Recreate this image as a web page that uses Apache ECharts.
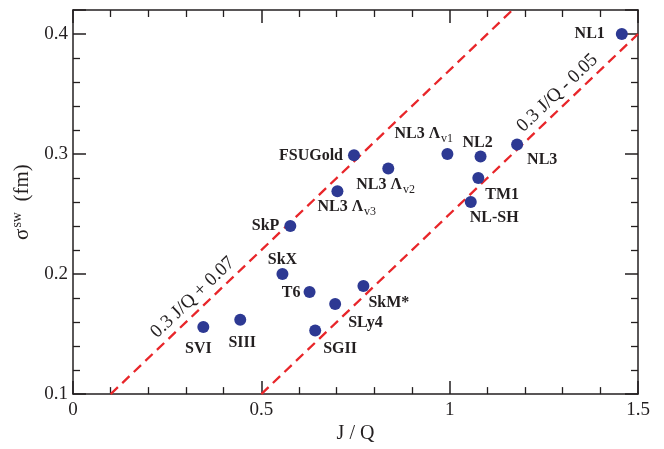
<!DOCTYPE html>
<html>
<head>
<meta charset="utf-8">
<script src="https://cdn.jsdelivr.net/npm/echarts@6/dist/echarts.min.js"></script>
<style>
  html, body { margin: 0; padding: 0; background: #fff; }
  #chart { width: 664px; height: 449px; }
</style>
</head>
<body>
<div id="chart"></div>
<script>
// Nuclear models: symmetry-energy ratio J/Q against skin-width coefficient (fm)
const models = ['NL1', 'NL3', 'NL2', 'TM1', 'NL-SH', 'NL3 Λv1', 'FSUGold', 'NL3 Λv2', 'NL3 Λv3',
                'SkP', 'SkX', 'T6', 'SkM*', 'SLy4', 'SVI', 'SIII', 'SGII'];
const jOverQ = [1.457, 1.179, 1.082, 1.076, 1.056, 0.994, 0.746, 0.837, 0.702,
                0.577, 0.556, 0.628, 0.771, 0.696, 0.346, 0.444, 0.643];
const sigmaSW = [0.400, 0.308, 0.298, 0.280, 0.260, 0.300, 0.299, 0.288, 0.269,
                 0.240, 0.200, 0.185, 0.190, 0.175, 0.156, 0.162, 0.153];

// Guide lines sigma = 0.3 J/Q + c
const guideSlope = 0.3;
const guideUpperIntercept = 0.07;
const guideLowerIntercept = -0.05;

const xTicks = { min: 0, max: 1.5, interval: 0.5 };
const yTicks = { min: 0.1, max: 0.42, interval: 0.1 };

const serif = 'Liberation Serif';
const ink = '#231f20';
const dotColor = '#2d3993';
const guideColor = '#e8262a';

// label placement: [align, dx, dy] relative to the marker centre
const labelPlace = {
  'NL1': ['right', -17, 0],
  'NL3': ['left', 10, 15],
  'NL2': ['left', -18, -14],
  'TM1': ['left', 7, 17],
  'NL-SH': ['left', -1, 16],
  'NL3 Λv1': ['left', -53, -20],
  'FSUGold': ['right', -11, 1],
  'NL3 Λv2': ['left', -32, 16],
  'NL3 Λv3': ['left', -20, 16],
  'SkP': ['right', -11, 0],
  'SkX': ['center', 0, -14],
  'T6': ['right', -9, 1],
  'SkM*': ['left', 5, 17],
  'SLy4': ['left', 13, 19],
  'SVI': ['center', -5, 22],
  'SIII': ['center', 2, 23],
  'SGII': ['left', 8, 18]
};

const symSize = 12;
const round4 = v => Math.round(v * 10000) / 10000;

function guideLine(intercept) {
  const x0 = round4(Math.max(xTicks.min, (yTicks.min - intercept) / guideSlope));
  const x1 = round4(Math.min(xTicks.max, (yTicks.max - intercept) / guideSlope));
  const y = x => round4(Math.min(yTicks.max, guideSlope * x + intercept));
  return [[x0, y(x0)], [x1, y(x1)]];
}

function makeAxis(extra) {
  return Object.assign({
    type: 'value',
    axisLine: { show: true, onZero: false, lineStyle: { color: ink, width: 1.5 } },
    axisTick: { show: true, inside: true, length: 13, lineStyle: { color: ink, width: 1.5 } },
    minorTick: { show: true, splitNumber: 5, length: 7, lineStyle: { color: ink, width: 1.3 } },
    splitLine: { show: false },
    minorSplitLine: { show: false }
  }, extra);
}

const chart = echarts.init(document.getElementById('chart'));

chart.setOption({
  animation: false,
  backgroundColor: '#fff',
  grid: { left: 73, right: 26, top: 10, bottom: 45 },
  xAxis: [
    makeAxis({
      position: 'bottom', min: xTicks.min, max: xTicks.max, interval: xTicks.interval,
      name: 'J / Q', nameLocation: 'middle', nameGap: 24,
      nameTextStyle: { fontFamily: serif, fontSize: 20, color: ink },
      axisLabel: { fontFamily: serif, fontSize: 19, color: ink, margin: 6 }
    }),
    makeAxis({
      position: 'top', min: xTicks.min, max: xTicks.max, interval: xTicks.interval,
      axisLabel: { show: false }
    })
  ],
  yAxis: [
    makeAxis({
      position: 'left', min: yTicks.min, max: yTicks.max, interval: yTicks.interval,
      name: '{s|σ}{sup|sw}{s|  (fm)}', nameLocation: 'middle', nameGap: 32,
      nameTextStyle: {
        rich: {
          s: { fontFamily: serif, fontSize: 21, color: ink },
          sup: { fontFamily: serif, fontSize: 14, color: ink, padding: [0, 0, 12, 1] }
        }
      },
      axisLabel: { fontFamily: serif, fontSize: 19, color: ink, margin: 5, showMaxLabel: false }
    }),
    makeAxis({
      position: 'right', min: yTicks.min, max: yTicks.max, interval: yTicks.interval,
      axisLabel: { show: false }
    })
  ],
  series: [
    {
      type: 'line',
      data: guideLine(guideUpperIntercept),
      showSymbol: false,
      silent: true,
      lineStyle: { color: guideColor, width: 2.3, type: [10, 6] },
      z: 2
    },
    {
      type: 'line',
      data: guideLine(guideLowerIntercept),
      showSymbol: false,
      silent: true,
      lineStyle: { color: guideColor, width: 2.3, type: [10, 6] },
      z: 2
    },
    {
      type: 'scatter',
      symbol: 'circle',
      symbolSize: symSize,
      itemStyle: { color: dotColor, opacity: 1 },
      data: jOverQ.map((x, i) => [x, sigmaSW[i]]),
      z: 4
    }
  ]
});

// Text annotations, placed through the chart's own coordinate conversion
function toPx(v) {
  return chart.convertToPixel({ seriesIndex: 2 }, v);
}

function textStyle(align, extra) {
  return Object.assign({
    fill: ink,
    fontFamily: serif,
    align: align, textAlign: align,
    verticalAlign: 'middle', textVerticalAlign: 'middle'
  }, extra);
}

const subRich = {
  b: { fontFamily: serif, fontWeight: 'bold', fontSize: 16, fill: ink, color: ink },
  sub: { fontFamily: serif, fontSize: 12, fill: ink, color: ink, padding: [10, 0, 0, 1] }
};

const graphics = [];
const probe = toPx([jOverQ[0], sigmaSW[0]]);

if (probe && isFinite(probe[0])) {
  models.forEach((name, i) => {
    const p = labelPlace[name];
    const pos = toPx([jOverQ[i], sigmaSW[i]]);
    const m = name.match(/^(.*Λ)(v\d)$/);
    const style = m
      ? textStyle(p[0], { text: '{b|' + m[1] + '}{sub|' + m[2] + '}', rich: subRich, fontSize: 16, fontWeight: 'bold' })
      : textStyle(p[0], { text: name, fontSize: 16, fontWeight: 'bold' });
    graphics.push({ type: 'text', silent: true, z: 10, x: pos[0] + p[1], y: pos[1] + p[2], style: style });
  });

  // guide-line captions, set parallel to the lines and lifted off them
  const a = toPx([0, guideLowerIntercept + 0.1]);
  const b = toPx([1, guideLowerIntercept + 0.1 + guideSlope]);
  const angle = Math.atan2(a[1] - b[1], b[0] - a[0]);
  const lift = 13;
  [[0.342, guideUpperIntercept, '0.3 J/Q + 0.07'], [1.31, guideLowerIntercept, '0.3 J/Q - 0.05']]
    .forEach(g => {
      const foot = toPx([g[0], guideSlope * g[0] + g[1]]);
      graphics.push({
        type: 'text', silent: true, z: 10,
        x: foot[0] - lift * Math.sin(angle),
        y: foot[1] - lift * Math.cos(angle),
        rotation: angle,
        style: textStyle('center', { text: g[2], fontSize: 19 })
      });
    });
  chart.setOption({ graphic: graphics });
} else {
  // fallback: attach the names as series labels
  chart.setOption({
    series: [{}, {}, {
      data: models.map((name, i) => {
        const p = labelPlace[name];
        return {
          value: [jOverQ[i], sigmaSW[i]],
          label: {
            show: true, position: 'inside', offset: [p[1], p[2]], align: p[0], verticalAlign: 'middle',
            formatter: name, fontFamily: serif, fontWeight: 'bold', fontSize: 16, color: ink
          }
        };
      })
    }]
  });
}
</script>
</body>
</html>
